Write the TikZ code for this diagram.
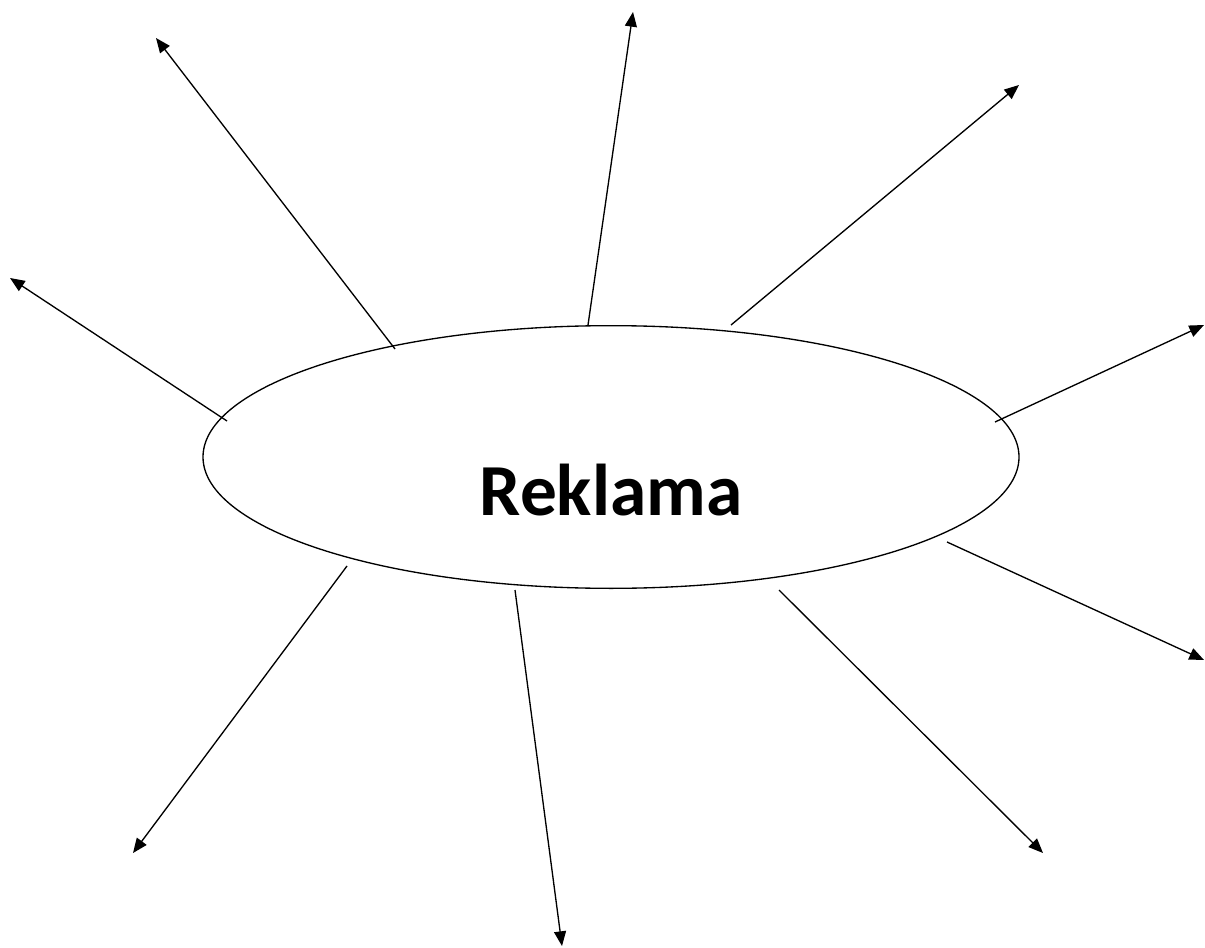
\documentclass[tikz,border=0pt]{standalone}
\usepackage{fontspec}
\setmainfont{Carlito}
\usetikzlibrary{arrows.meta,shapes.geometric}

\begin{document}
\begin{tikzpicture}[
  x=0.75pt, y=-0.75pt,
  oval/.style={draw, ellipse, line width=1pt, minimum width=612pt, minimum height=197pt, inner sep=0pt},
  title/.style={font=\fontsize{55}{60}\selectfont\bfseries},
  arr/.style={-{Triangle[length=11pt,width=9pt]}, line width=1pt}
]
\useasboundingbox (0,0) rectangle (1205,948);
\node[oval] (ad) at (611,457) {};
\node[title] (adtext) at (611,490) {Reklama};
% start and end points of the rays
\coordinate (s1) at (395,349);  \coordinate (e1) at (156,38);
\coordinate (s2) at (588,325);  \coordinate (e2) at (633,12);
\coordinate (s3) at (731,325);  \coordinate (e3) at (1019,85);
\coordinate (s4) at (227,421);  \coordinate (e4) at (10,278);
\coordinate (s5) at (995,422);  \coordinate (e5) at (1204,325);
\coordinate (s6) at (947,542);  \coordinate (e6) at (1204,660);
\coordinate (s7) at (347,566);  \coordinate (e7) at (133,853);
\coordinate (s8) at (515,590);  \coordinate (e8) at (562,946);
\coordinate (s9) at (779,590);  \coordinate (e9) at (1043,853);
\foreach \i in {1,...,9}
  \draw[arr] (s\i) -- (e\i);
\end{tikzpicture}
\end{document}
